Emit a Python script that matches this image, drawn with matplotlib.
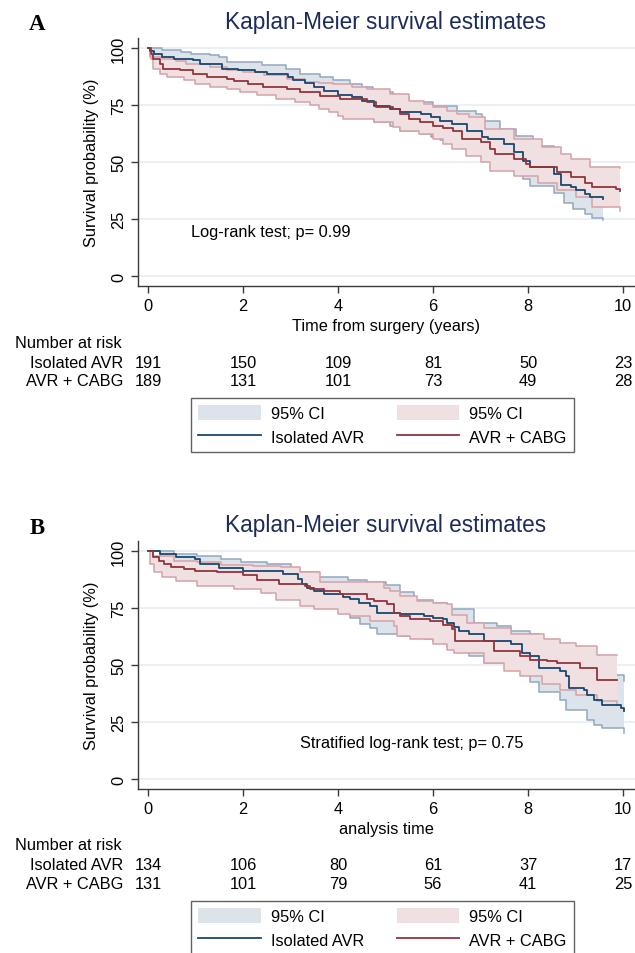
import numpy as np
import matplotlib
matplotlib.use('Agg')
import matplotlib.pyplot as plt
from matplotlib.patches import Patch
from matplotlib.lines import Line2D

plt.rcParams['font.family'] = ['Liberation Sans', 'DejaVu Sans']

# ---- panel A: Kaplan-Meier estimates (time in years, survival in %) ----
a_iso = [(0, 100), (0.05, 98.5), (0.12, 97.4), (0.3, 96), (0.55, 95.3), (0.95, 94.6), (1.1, 93.1),
         (1.55, 90.9), (1.9, 90.2), (2.25, 89.4), (2.5, 88.7), (2.95, 87.2), (3.05, 85.8), (3.3, 84.5),
         (3.5, 82.9), (3.7, 81.3), (4.0, 79.6), (4.3, 78.3), (4.5, 76.9), (4.75, 74.7), (5.1, 73.3),
         (5.3, 71.8), (5.75, 71.1), (5.95, 69.6), (6.15, 68.2), (6.4, 66.5), (6.72, 63.7), (7.02, 60.8),
         (7.15, 60.0), (7.5, 57.9), (7.7, 54.3), (7.9, 50.6), (8.05, 47.7), (8.55, 44.8), (8.7, 40.0),
         (8.9, 39.0), (9.0, 37.5), (9.2, 36.0), (9.3, 34.6), (9.58, 33.8)]
a_iso_hi = [(0, 100), (0.3, 99), (0.7, 98.4), (0.9, 97.4), (1.3, 96.8), (1.5, 96), (1.66, 93.8),
            (2.4, 92.4), (2.9, 90.9), (3.2, 88.6), (3.62, 87.1), (3.9, 85.8), (4.25, 84.2), (4.5, 82.8),
            (4.74, 80.5), (5.16, 78.3), (5.5, 76.2), (6.0, 74.7), (6.5, 72.5), (6.9, 71.0), (7.02, 68.0),
            (7.4, 64.5), (7.75, 61.6), (8.1, 57.2), (8.55, 53.5), (8.7, 51.5), (8.9, 49), (9.2, 47),
            (9.35, 45), (9.58, 44)]
a_iso_lo = [(0, 100), (0.05, 96), (0.12, 94.5), (0.3, 93), (0.55, 92), (0.95, 91), (1.1, 89.5),
            (1.55, 87), (1.9, 86), (2.25, 85), (2.5, 84), (2.95, 82.5), (3.05, 81), (3.3, 79.5),
            (3.5, 78), (3.7, 76), (4.0, 74.5), (4.3, 72.5), (4.5, 71), (4.75, 67.4), (5.1, 65.8),
            (5.3, 63.5), (5.75, 62.5), (5.95, 61), (6.15, 59.5), (6.4, 57.8), (6.72, 55.5), (7.02, 52.5),
            (7.5, 49.5), (7.7, 46), (7.9, 42.5), (8.05, 39.5), (8.55, 36.5), (8.75, 32), (8.95, 29.5),
            (9.2, 27.3), (9.35, 25.5), (9.58, 24.4)]
a_cabg = [(0, 100), (0.07, 97.5), (0.1, 95.3), (0.25, 93.1), (0.32, 90.9), (0.67, 90.2), (0.95, 88.7),
          (1.24, 87.3), (1.66, 86.5), (1.8, 85.4), (2.1, 84.2), (2.43, 82.9), (2.92, 82.2), (3.2, 80.5),
          (3.62, 79.1), (4.04, 77.6), (4.6, 76.2), (4.8, 74.0), (5.16, 73.3), (5.3, 71.1), (5.5, 68.9),
          (5.73, 67.4), (6.0, 66.0), (6.2, 65.0), (6.43, 63.8), (6.6, 60.1), (7.0, 58.6), (7.2, 55.5),
          (7.3, 53.5), (7.7, 51.3), (7.95, 49), (8.05, 47.7), (8.6, 45.5), (8.9, 43.3), (9.2, 41),
          (9.35, 39), (9.85, 38.2), (9.93, 37.4)]
a_cabg_hi = [(0, 100), (0.07, 98.5), (0.1, 96), (0.3, 95), (0.6, 94.3), (0.8, 93.1), (1.3, 91.6),
             (1.66, 90.2), (2.0, 89.5), (2.45, 88), (2.92, 86.5), (3.3, 85), (3.6, 84.5), (3.9, 84.2),
             (4.3, 83), (4.6, 82), (5.1, 79.8), (5.5, 76.9), (5.8, 75.5), (6.0, 74), (6.3, 72.5),
             (6.5, 71.1), (6.75, 69.6), (7.1, 64.5), (7.7, 60), (8.3, 56.4), (8.7, 53.5), (8.9, 51.3),
             (9.3, 47.7), (9.93, 47.2)]
a_cabg_lo = [(0, 100), (0.07, 95.3), (0.1, 90.9), (0.25, 88.7), (0.4, 87.3), (0.75, 85.8), (1.0, 84.4),
             (1.3, 82.9), (1.66, 82.2), (1.94, 80.7), (2.29, 79.3), (2.7, 77.8), (3.1, 76.3), (3.4, 74.9),
             (3.6, 73.3), (3.8, 72), (4.0, 70.4), (4.1, 68.9), (4.75, 67.4), (5.16, 65.2), (5.3, 63.8),
             (5.7, 62.5), (6.0, 60.1), (6.2, 58), (6.4, 55.7), (6.7, 52.5), (7.0, 50), (7.2, 46),
             (7.7, 44), (8.2, 41), (8.6, 37.5), (9.0, 34.6), (9.35, 30.3), (9.93, 28.6)]

# ---- panel B ----
b_iso = [(0, 100), (0.25, 98.7), (0.6, 97.6), (1.0, 96.5), (1.1, 94.5), (1.5, 92.5), (2.0, 91.3),
         (2.85, 89.9), (3.15, 87.7), (3.25, 85.5), (3.35, 84), (3.5, 82.5), (3.7, 81.1), (4.1, 80),
         (4.26, 78.8), (4.45, 77.4), (4.68, 75.9), (4.82, 73), (5.31, 72.2), (5.8, 71.5), (6.0, 70.8),
         (6.2, 70), (6.29, 68.6), (6.45, 66.5), (6.55, 64.9), (6.75, 63.4), (7.07, 60.5), (7.63, 59.0),
         (7.88, 55.3), (8.05, 53.9), (8.23, 48.7), (8.68, 47.3), (8.79, 45.1), (8.86, 39.9),
         (9.17, 39.2), (9.24, 37), (9.38, 34.8), (9.56, 32.6), (9.95, 31.1), (10.01, 29.7)]
b_iso_hi = [(0, 100), (0.55, 98.7), (1.04, 98), (1.53, 96.5), (1.95, 95), (2.5, 94.3), (3.0, 92),
            (3.2, 90.6), (3.6, 88.5), (4.2, 87.5), (4.6, 86.5), (5.0, 85), (5.3, 82), (5.6, 78.5),
            (6.0, 77), (6.3, 74.5), (6.86, 68.6), (7.35, 67.1), (7.63, 64.9), (8.05, 63.4), (8.23, 60),
            (8.68, 58.5), (8.86, 53), (9.24, 51), (9.38, 48), (9.56, 45.5), (10.01, 42.9)]
b_iso_lo = [(0, 100), (0.25, 97), (0.5, 94), (1.0, 91), (1.1, 89), (1.5, 87), (2.0, 85), (2.85, 83),
            (3.15, 80), (3.35, 77.5), (3.7, 75.5), (4.26, 70.8), (4.47, 67.8), (4.68, 66.4),
            (4.82, 63.4), (5.31, 62.7), (5.8, 61.5), (6.0, 60.5), (6.29, 58.5), (6.55, 55.5),
            (6.75, 54), (7.07, 51), (7.63, 49.5), (7.88, 45.5), (8.05, 42.5), (8.23, 38), (8.68, 34.8),
            (8.79, 30.4), (9.24, 26), (9.38, 23.8), (9.56, 22.3), (10.01, 20.1)]
b_cabg = [(0, 100), (0.1, 97.2), (0.24, 95.7), (0.34, 94.3), (0.48, 92.8), (0.76, 92), (1.0, 91.3),
          (1.46, 90.6), (2.0, 89.5), (2.3, 87.5), (2.75, 85.5), (3.3, 84.7), (3.42, 83.3), (3.7, 82.5),
          (4.05, 81.1), (4.6, 79.1), (4.75, 78.1), (5.03, 76.6), (5.17, 73), (5.31, 71.5), (5.52, 70.3),
          (5.94, 69.3), (6.2, 67.5), (6.4, 65.6), (6.47, 60.5), (7.28, 56.1), (7.84, 53.9),
          (8.05, 52.4), (8.4, 51.7), (8.61, 50.9), (9.1, 48.7), (9.45, 43.6), (9.87, 43.6)]
b_cabg_hi = [(0, 100), (0.1, 98), (0.55, 95.7), (1.04, 95), (1.53, 93.8), (2.2, 93.5), (2.8, 92.8),
             (3.2, 90.6), (3.63, 86.2), (4.96, 84), (5.1, 82.5), (5.31, 80.3), (5.66, 78.1), (6.0, 77.4),
             (6.3, 76.6), (6.4, 72), (6.72, 68.6), (7.07, 66.4), (7.63, 63.4), (8.33, 61.2),
             (8.68, 59.8), (9.0, 58.5), (9.45, 54.6), (9.87, 54.6)]
b_cabg_lo = [(0, 100), (0.05, 94.5), (0.12, 91), (0.3, 88.4), (0.6, 86.9), (1.04, 84.7), (1.8, 83.5),
             (2.37, 81.5), (2.7, 78.5), (3.2, 75.9), (3.5, 74.5), (4.0, 72.5), (4.26, 71.5),
             (4.68, 69.3), (5.17, 67.1), (5.24, 62.7), (5.52, 61.2), (6.0, 59.0), (6.29, 56.8),
             (6.45, 55.3), (7.07, 50.9), (7.5, 47.5), (7.84, 45.1), (8.3, 41.5), (8.68, 39.2),
             (9.0, 37), (9.45, 34.1), (9.87, 32.6)]

# number at risk
risk_times = [0, 2, 4, 6, 8, 10]
a_risk_iso = [191, 150, 109, 81, 50, 23]
a_risk_cabg = [189, 131, 101, 73, 49, 28]
b_risk_iso = [134, 106, 80, 61, 37, 17]
b_risk_cabg = [131, 101, 79, 56, 41, 25]

group_names = ['Isolated AVR', 'AVR + CABG']

W, H = 635.0, 954.0
NAVY = '#1a476f'
MAROON = '#90353b'
NAVY_FILL, NAVY_EDGE = '#dde3ea', '#93a8bf'
MAROON_FILL, MAROON_EDGE = '#f0e0e2', '#d5a2a7'
TITLE_COL = '#1c2b5a'
GRID_COL = '#e8eff2'
FS = 11.8


def fx(px):
    return px / W


def fy(py):
    return 1 - py / H


def stepxy(pts):
    pts = np.array(pts, dtype=float)
    x = np.repeat(pts[:, 0], 2)[1:]
    y = np.repeat(pts[:, 1], 2)[:-1]
    return x, y


def ci_band(ax, hi, lo, fill, edge, z):
    xu, yu = stepxy(hi)
    xl, yl = stepxy(lo)
    ax.fill(np.concatenate([xu, xl[::-1]]), np.concatenate([yu, yl[::-1]]),
            facecolor=fill, lw=0, zorder=z)
    ax.plot(xu, yu, color=edge, lw=1.1, zorder=z + 0.5)
    ax.plot(xl, yl, color=edge, lw=1.1, zorder=z + 0.5)


def draw_panel(fig, top, letter, xlabel, iso, iso_hi, iso_lo, cabg, cabg_hi, cabg_lo,
               risk_iso, risk_cabg, note, note_xy):
    fig.text(fx(37), fy(top - 14), letter, family='Liberation Serif', weight='bold',
             fontsize=16.5, ha='center', va='center')
    fig.text(fx(386), fy(top - 16), 'Kaplan-Meier survival estimates', color=TITLE_COL,
             fontsize=16.3, ha='center', va='center')

    ax = fig.add_axes([fx(138), fy(top + 248), (W - 138) / W, 248 / H])
    ax.set_xlim(-0.21, 10.25)
    ax.set_ylim(-4.4, 104.4)
    for side in ['top', 'right']:
        ax.spines[side].set_visible(False)
    for side in ['left', 'bottom']:
        ax.spines[side].set_color('#3a3a3a')
        ax.spines[side].set_linewidth(1.0)
    ax.set_yticks([0, 25, 50, 75, 100])
    ax.set_xticks(risk_times)
    ax.grid(axis='y', color=GRID_COL, lw=1.3, zorder=0)
    ax.set_axisbelow(True)
    ax.tick_params(length=5, width=1.0, color='#3a3a3a', labelsize=FS, pad=3.5)
    plt.setp(ax.get_yticklabels(), rotation=90, va='center')
    ax.set_ylabel('Survival probability (%)', fontsize=FS, labelpad=9)
    ax.set_xlabel(xlabel, fontsize=FS, labelpad=3.5)

    ci_band(ax, iso_hi, iso_lo, NAVY_FILL, NAVY_EDGE, 2)
    ci_band(ax, cabg_hi, cabg_lo, MAROON_FILL, MAROON_EDGE, 3)
    x, y = stepxy(iso)
    ax.plot(x, y, color=NAVY, lw=1.3, zorder=5)
    x, y = stepxy(cabg)
    ax.plot(x, y, color=MAROON, lw=1.3, zorder=5)

    ax.text(note_xy[0], note_xy[1], note, fontsize=FS, ha='left', va='center')

    # number at risk table
    fig.text(fx(15), fy(top + 304), 'Number at risk', fontsize=FS, ha='left', va='center')
    for row, (name, vals) in enumerate(zip(group_names, [risk_iso, risk_cabg])):
        yrow = fy(top + 324 + row * 19)
        fig.text(fx(123), yrow, name, fontsize=FS, ha='right', va='center')
        for t, v in zip(risk_times, vals):
            xd = ax.transData.transform((t, 0))[0]
            xf = fig.transFigure.inverted().transform((xd, 0))[0]
            fig.text(xf, yrow, str(v), fontsize=FS, ha='center', va='center')

    handles = [Patch(facecolor=NAVY_FILL, lw=0), Line2D([], [], color=NAVY, lw=1.3),
               Patch(facecolor=MAROON_FILL, lw=0), Line2D([], [], color=MAROON, lw=1.3)]
    labels = ['95% CI', group_names[0], '95% CI', group_names[1]]
    leg = fig.legend(handles, labels, ncol=2, loc='upper left',
                     bbox_to_anchor=(fx(191), fy(top + 360)), borderaxespad=0,
                     fontsize=FS, fancybox=False, frameon=True, handlelength=3.8,
                     handleheight=1.0, handletextpad=0.65, columnspacing=1.95,
                     labelspacing=0.45, borderpad=0.45)
    leg.get_frame().set_edgecolor('#3a3a3a')
    leg.get_frame().set_linewidth(1.0)
    return ax


fig = plt.figure(figsize=(W / 100, H / 100), dpi=100)
fig.patch.set_facecolor('white')

draw_panel(fig, 39, 'A', 'Time from surgery (years)', a_iso, a_iso_hi, a_iso_lo,
           a_cabg, a_cabg_hi, a_cabg_lo, a_risk_iso, a_risk_cabg,
           'Log-rank test; p= 0.99', (0.9, 19.7))
draw_panel(fig, 542, 'B', 'analysis time', b_iso, b_iso_hi, b_iso_lo,
           b_cabg, b_cabg_hi, b_cabg_lo, b_risk_iso, b_risk_cabg,
           'Stratified log-rank test; p= 0.75', (3.19, 15.9))

fig.savefig('out.png', dpi=100)
